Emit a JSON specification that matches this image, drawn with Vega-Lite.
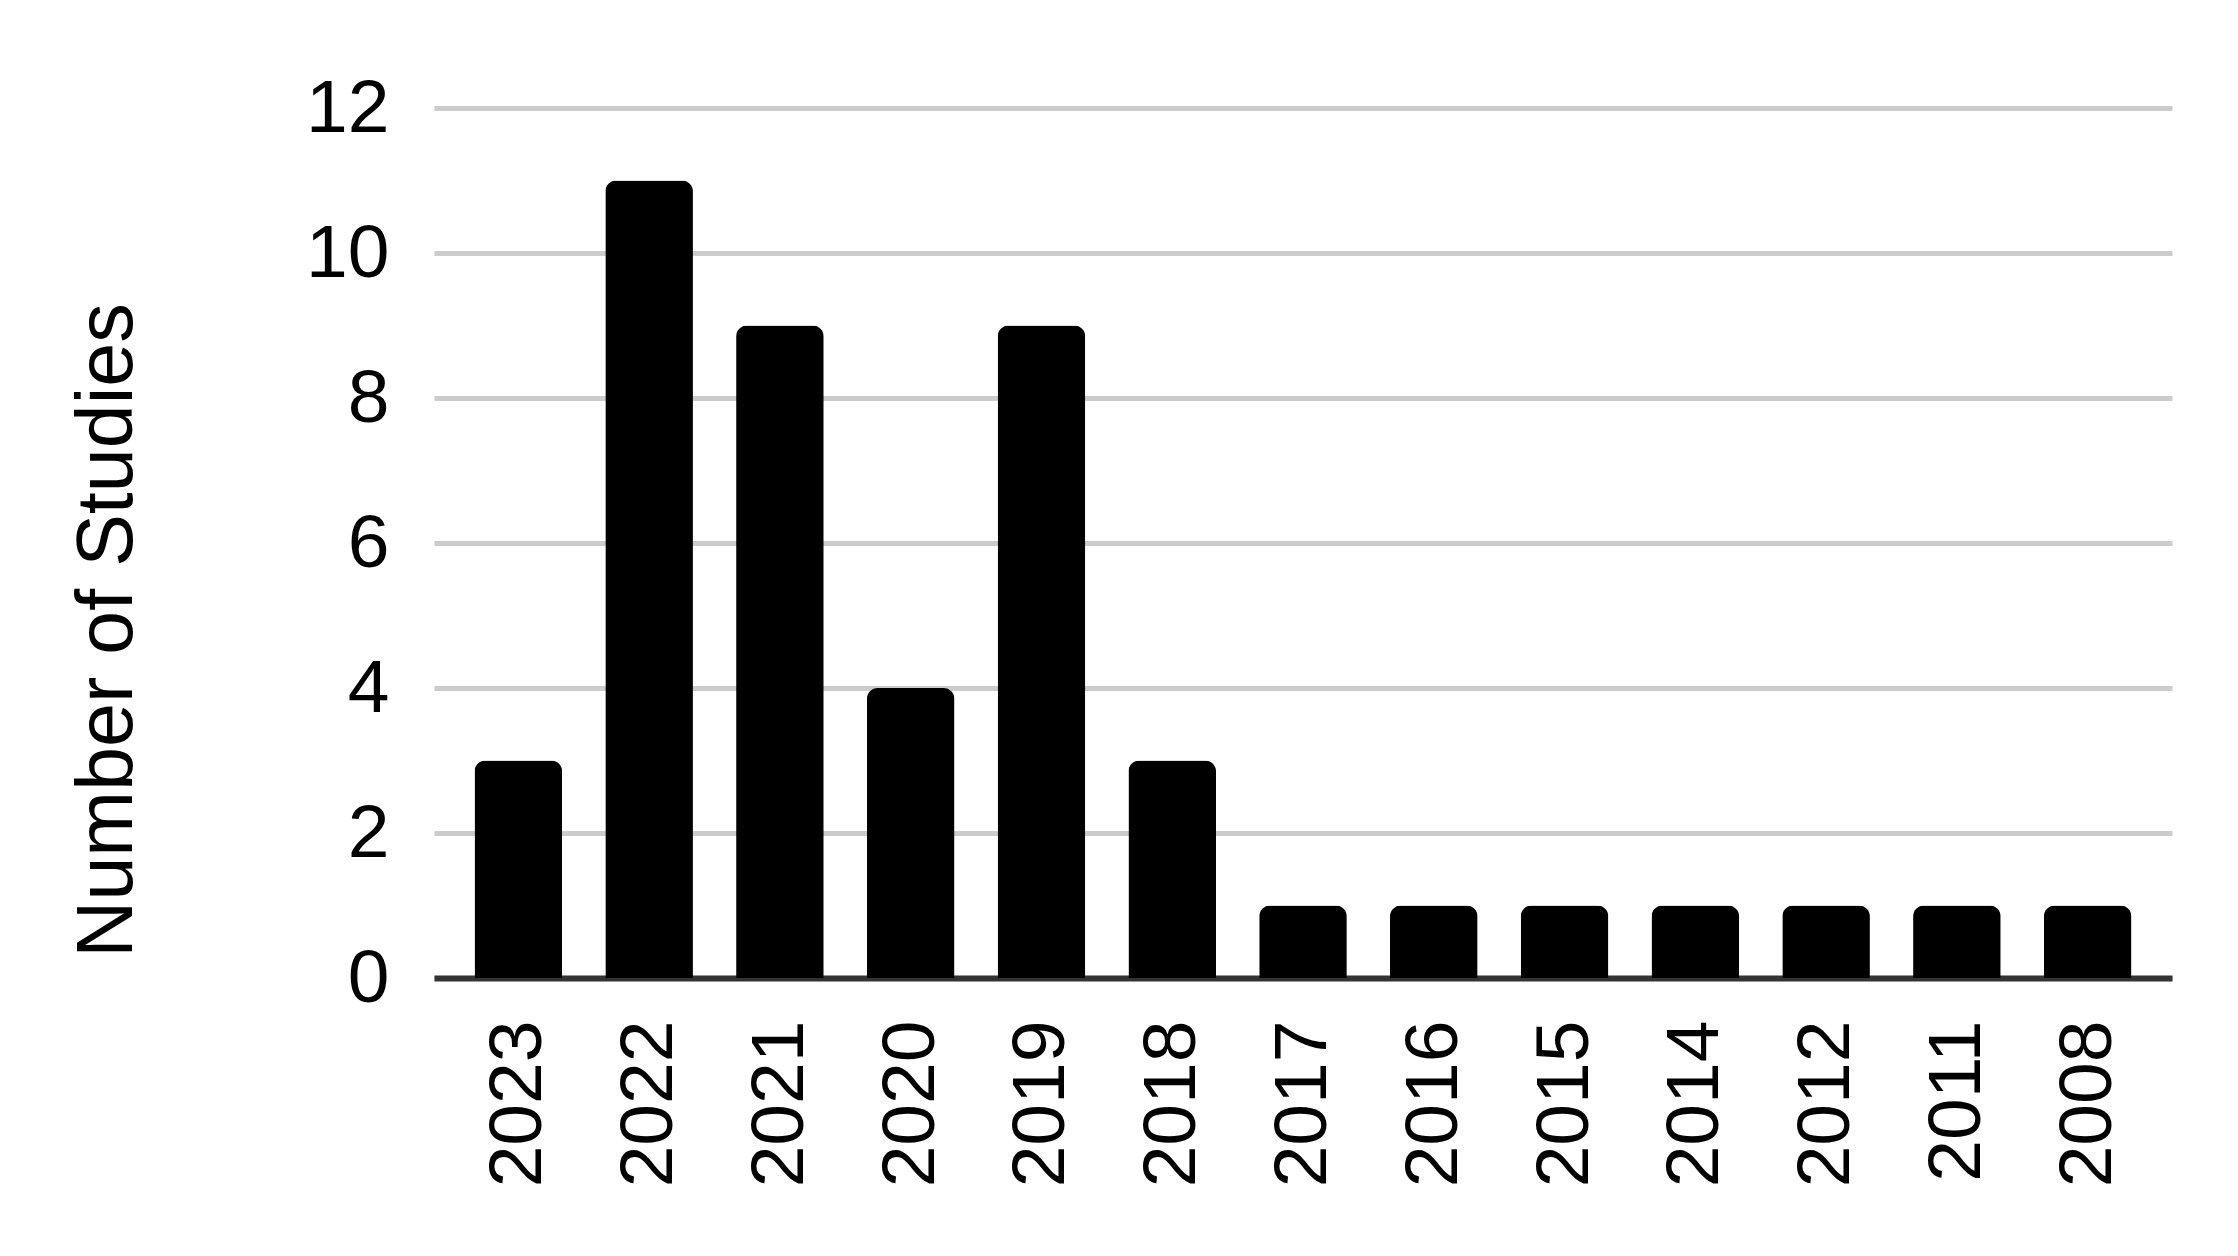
{
  "$schema": "https://vega.github.io/schema/vega-lite/v6.json",
  "autosize": "none",
  "width": 1738,
  "height": 870,
  "padding": {"left": 434, "top": 108, "right": 66, "bottom": 278},
  "background": "white",
  "config": {
    "view": {"stroke": null},
    "font": "Liberation Sans"
  },
  "data": {
    "values": [
      {"year": "2023", "studies": 3},
      {"year": "2022", "studies": 11},
      {"year": "2021", "studies": 9},
      {"year": "2020", "studies": 4},
      {"year": "2019", "studies": 9},
      {"year": "2018", "studies": 3},
      {"year": "2017", "studies": 1},
      {"year": "2016", "studies": 1},
      {"year": "2015", "studies": 1},
      {"year": "2014", "studies": 1},
      {"year": "2012", "studies": 1},
      {"year": "2011", "studies": 1},
      {"year": "2008", "studies": 1}
    ]
  },
  "mark": {"type": "bar", "color": "#000000", "cornerRadiusEnd": 11},
  "encoding": {
    "x": {
      "field": "year",
      "type": "nominal",
      "sort": null,
      "scale": {"paddingInner": 0.33, "paddingOuter": 0.31},
      "axis": {
        "title": null,
        "labelAngle": -90,
        "labelAlign": "right",
        "labelBaseline": "middle",
        "labelFont": "Liberation Sans",
        "labelFontSize": 75,
        "labelColor": "#000000",
        "labelPadding": 42,
        "ticks": false,
        "tickSize": 0,
        "domain": true,
        "domainColor": "#333333",
        "domainWidth": 6,
        "grid": false
      }
    },
    "y": {
      "field": "studies",
      "type": "quantitative",
      "scale": {"domain": [0, 12], "nice": false},
      "axis": {
        "title": "Number of  Studies",
        "titleFont": "Liberation Sans",
        "titleFontSize": 79,
        "titleFontWeight": "normal",
        "titleColor": "#000000",
        "titleAngle": -90,
        "titleAlign": "center",
        "titleBaseline": "middle",
        "titleX": -327,
        "titleY": 522,
        "values": [0, 2, 4, 6, 8, 10, 12],
        "labelFont": "Liberation Sans",
        "labelFontSize": 75,
        "labelColor": "#000000",
        "labelPadding": 45,
        "ticks": false,
        "tickSize": 0,
        "domain": false,
        "grid": true,
        "gridColor": "#cccccc",
        "gridWidth": 5
      }
    }
  }
}
